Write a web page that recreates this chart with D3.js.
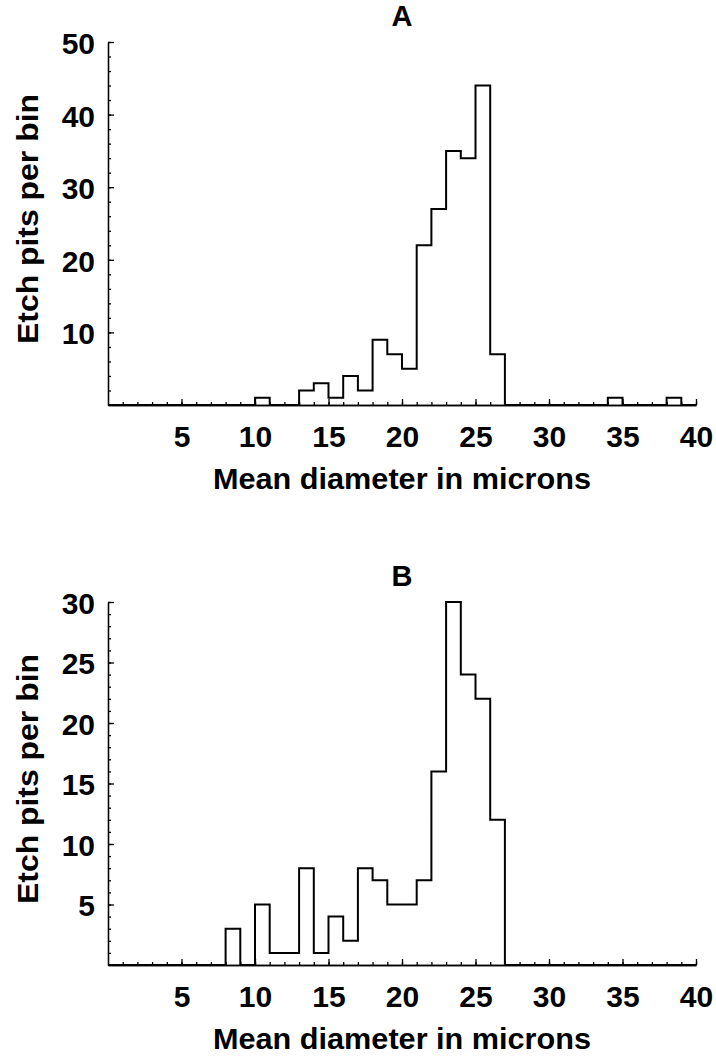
<!DOCTYPE html>
<meta charset="utf-8">
<style>
body {
  margin: 0;
  background: #fff;
}
svg text {
  font-family: "Liberation Sans", Arial, sans-serif;
  font-weight: bold;
  fill: #000;
}
.axis path, .axis line {
  stroke: #000;
  stroke-width: 1.3px;
}
.hist {
  fill: none;
  stroke: #000;
  stroke-width: 2px;
}
</style>
<body>
<script src="https://cdn.jsdelivr.net/npm/d3@7"></script>
<script>
// bins are 1 micron wide, from 0 to 40
var binStarts = d3.range(0, 40);

var countsA = [0,0,0,0,0,0,0,0,0,0,
               1,0,0,2,3,1,4,2,9,7,
               5,22,27,35,34,44,7,0,0,0,
               0,0,0,0,1,0,0,0,1,0];

var countsB = [0,0,0,0,0,0,0,0,3,0,
               5,1,1,8,1,4,2,8,7,5,
               5,7,16,30,24,22,12,0,0,0,
               0,0,0,0,0,0,0,0,0,0];

var xMajor = [5, 10, 15, 20, 25, 30, 35, 40];
var xMinor = d3.range(1, 41);

var yMajorA = [10, 20, 30, 40, 50];
var yMinorA = d3.range(2, 51, 2);
var yMajorB = [5, 10, 15, 20, 25, 30];
var yMinorB = d3.range(1, 31);

var panels = [
  {title: "A", counts: countsA, yMax: 50, major: yMajorA, minor: yMinorA, top: 0},
  {title: "B", counts: countsB, yMax: 30, major: yMajorB, minor: yMinorB, top: 560}
];

var width = 716, height = 1059;
var svg = d3.select("body").append("svg")
    .attr("width", width)
    .attr("height", height);

var x = d3.scaleLinear().domain([0, 40]).range([108, 696]);

panels.forEach(function(p) {
  var g = svg.append("g").attr("transform", "translate(0," + p.top + ")");
  var y = d3.scaleLinear().domain([0, p.yMax]).range([405, 42]);

  // minor ticks
  g.append("g").attr("class", "axis")
      .attr("transform", "translate(0,405)")
      .call(d3.axisBottom(x).tickValues(xMinor).tickSize(-3).tickSizeOuter(0).tickFormat(""));
  g.append("g").attr("class", "axis")
      .attr("transform", "translate(108,0)")
      .call(d3.axisLeft(y).tickValues(p.minor).tickSize(-3).tickSizeOuter(0).tickFormat(""));

  // major ticks with labels
  var xa = g.append("g").attr("class", "axis")
      .attr("transform", "translate(0,405)")
      .call(d3.axisBottom(x).tickValues(xMajor).tickSize(-6).tickSizeOuter(0).tickPadding(21));
  xa.selectAll("text").attr("font-size", 30);

  var ya = g.append("g").attr("class", "axis")
      .attr("transform", "translate(108,0)")
      .call(d3.axisLeft(y).tickValues(p.major).tickSize(-6).tickSizeOuter(0).tickPadding(13));
  ya.selectAll("text")
      .attr("font-size", 30)
      .attr("dy", "0.38em");

  // step outline of the histogram
  var pts = [[0, 0]];
  binStarts.forEach(function(b, i) {
    pts.push([b, p.counts[i]]);
    pts.push([b + 1, p.counts[i]]);
  });
  pts.push([40, 0]);

  g.append("path")
      .attr("class", "hist")
      .attr("d", d3.line()
        .x(function(d) { return x(d[0]); })
        .y(function(d) { return y(d[1]); })(pts));

  g.append("text")
      .attr("x", 402)
      .attr("y", 26)
      .attr("text-anchor", "middle")
      .attr("font-size", 29)
      .text(p.title);

  g.append("text")
      .attr("x", 402)
      .attr("y", 489)
      .attr("text-anchor", "middle")
      .attr("font-size", 30)
      .attr("textLength", 378)
      .attr("lengthAdjust", "spacingAndGlyphs")
      .text("Mean diameter in microns");

  g.append("text")
      .attr("transform", "translate(38,219) rotate(-90)")
      .attr("text-anchor", "middle")
      .attr("font-size", 30)
      .attr("textLength", 250)
      .attr("lengthAdjust", "spacingAndGlyphs")
      .text("Etch pits per bin");
});
</script>
</body>
